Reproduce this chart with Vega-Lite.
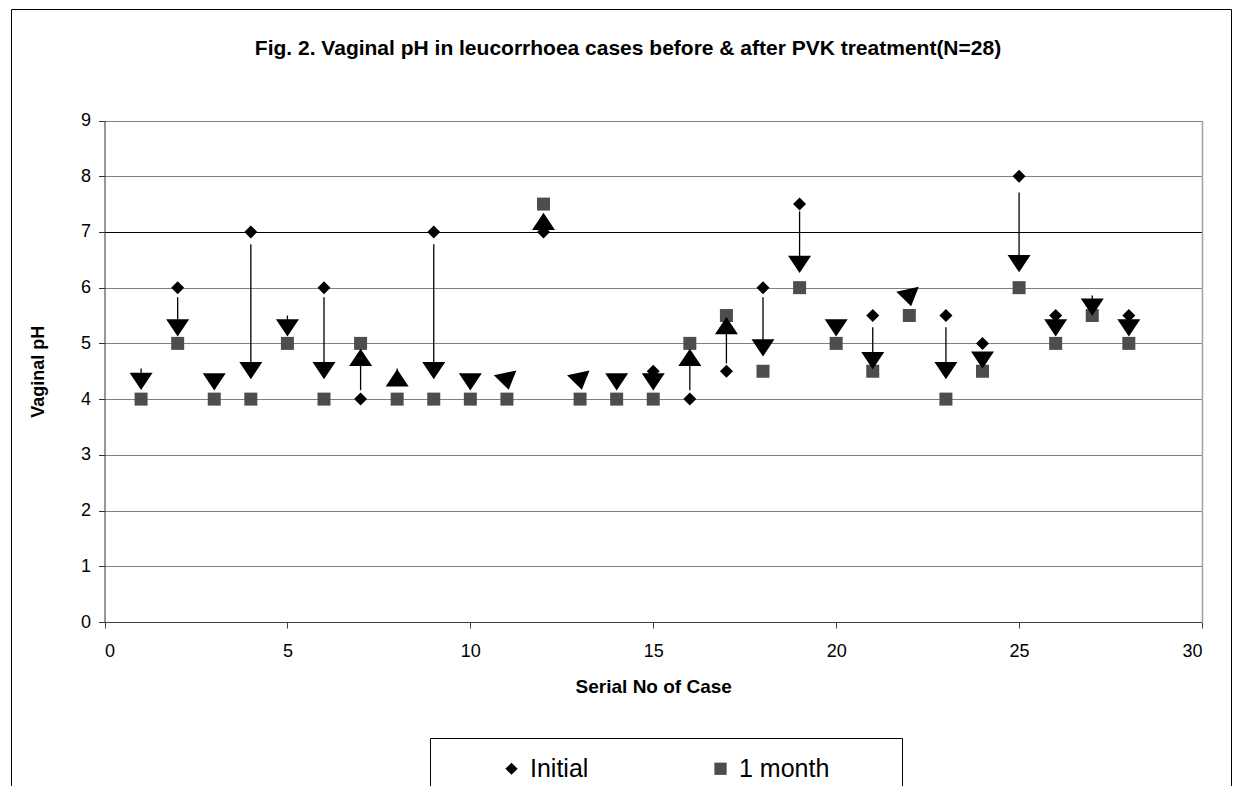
{
  "$schema": "https://vega.github.io/schema/vega-lite/v6.json",
  "autosize": "none",
  "width": 1220,
  "height": 777,
  "padding": {"left": 11, "top": 9, "right": 5, "bottom": 0},
  "background": "white",
  "config": {
    "view": {"stroke": "black", "strokeWidth": 1},
    "font": "Liberation Sans"
  },
  "title": {
    "text": "Fig. 2.  Vaginal pH in leucorrhoea cases before & after PVK treatment(N=28)",
    "font": "Liberation Sans",
    "fontSize": 21,
    "fontWeight": "bold",
    "color": "black",
    "anchor": "middle",
    "baseline": "alphabetic",
    "dx": 7,
    "offset": -67
  },
  "data": {
    "values": [
      {"case": 1, "Initial": null, "1 month": 4, "from": 4.55, "at": 4.32, "dir": "down"},
      {"case": 2, "Initial": 6, "1 month": 5, "from": 5.83, "at": 5.28, "dir": "down"},
      {"case": 3, "Initial": null, "1 month": 4, "from": null, "at": 4.31, "dir": "down"},
      {"case": 4, "Initial": 7, "1 month": 4, "from": 6.78, "at": 4.51, "dir": "down"},
      {"case": 5, "Initial": null, "1 month": 5, "from": 5.5, "at": 5.28, "dir": "down"},
      {"case": 6, "Initial": 6, "1 month": 4, "from": 5.83, "at": 4.51, "dir": "down"},
      {"case": 7, "Initial": 4, "1 month": 5, "from": 4.16, "at": 4.75, "dir": "up"},
      {"case": 8, "Initial": null, "1 month": 4, "from": 4.55, "at": 4.38, "dir": "up"},
      {"case": 9, "Initial": 7, "1 month": 4, "from": 6.78, "at": 4.51, "dir": "down"},
      {"case": 10, "Initial": null, "1 month": 4, "from": null, "at": 4.31, "dir": "down"},
      {"case": 11, "Initial": null, "1 month": 4, "from": null, "at": 4.32, "dir": "down"},
      {"case": 12, "Initial": 7, "1 month": 7.5, "from": null, "at": 7.19, "dir": "up"},
      {"case": 13, "Initial": null, "1 month": 4, "from": null, "at": 4.32, "dir": "down"},
      {"case": 14, "Initial": null, "1 month": 4, "from": null, "at": 4.31, "dir": "down"},
      {"case": 15, "Initial": 4.5, "1 month": 4, "from": null, "at": 4.31, "dir": "down"},
      {"case": 16, "Initial": 4, "1 month": 5, "from": 4.16, "at": 4.75, "dir": "up"},
      {"case": 17, "Initial": 4.5, "1 month": 5.5, "from": 4.64, "at": 5.32, "dir": "up"},
      {"case": 18, "Initial": 6, "1 month": 4.5, "from": 5.83, "at": 4.92, "dir": "down"},
      {"case": 19, "Initial": 7.5, "1 month": 6, "from": 7.37, "at": 6.42, "dir": "down"},
      {"case": 20, "Initial": null, "1 month": 5, "from": null, "at": 5.28, "dir": "down"},
      {"case": 21, "Initial": 5.5, "1 month": 4.5, "from": 5.29, "at": 4.69, "dir": "down"},
      {"case": 22, "Initial": null, "1 month": 5.5, "from": null, "at": 5.82, "dir": "down"},
      {"case": 23, "Initial": 5.5, "1 month": 4, "from": 5.29, "at": 4.51, "dir": "down"},
      {"case": 24, "Initial": 5, "1 month": 4.5, "from": null, "at": 4.7, "dir": "down"},
      {"case": 25, "Initial": 8, "1 month": 6, "from": 7.71, "at": 6.43, "dir": "down"},
      {"case": 26, "Initial": 5.5, "1 month": 5, "from": null, "at": 5.28, "dir": "down"},
      {"case": 27, "Initial": null, "1 month": 5.5, "from": 5.86, "at": 5.65, "dir": "down"},
      {"case": 28, "Initial": 5.5, "1 month": 5, "from": null, "at": 5.28, "dir": "down"}
    ]
  },
  "resolve": {"axis": {"y": "independent"}},
  "layer": [
    {
      "transform": [{"filter": "datum.from != null"}],
      "mark": {"type": "rule", "color": "black", "strokeWidth": 1.3},
      "encoding": {
        "x": {
          "field": "case", "type": "quantitative",
          "scale": {"domain": [0, 30], "range": [93.5, 1191], "nice": false, "zero": false},
          "axis": {
            "orient": "bottom", "offset": -164,
            "values": [0, 5, 10, 15, 20, 25, 30],
            "grid": false,
            "domainColor": "#404040", "domainWidth": 1,
            "tickColor": "#404040", "tickSize": 6, "tickWidth": 1,
            "labelFont": "Liberation Sans", "labelFontSize": 18, "labelColor": "black", "labelPadding": 14,
            "title": "Serial No of Case",
            "titleFont": "Liberation Sans", "titleFontSize": 19, "titleFontWeight": "bold", "titleColor": "black",
            "titlePadding": 17
          }
        },
        "y": {
          "field": "from", "type": "quantitative",
          "scale": {"domain": [0, 9], "range": [613, 111.5], "nice": false, "zero": false},
          "axis": {
            "orient": "left", "offset": -93.5,
            "values": [0, 1, 2, 3, 4, 5, 6, 7, 8, 9],
            "grid": true,
            "gridColor": {"condition": {"test": "datum.value === 7", "value": "#000000"}, "value": "#808080"},
            "gridWidth": 1,
            "domainColor": "#333333", "domainWidth": 1,
            "tickColor": "#333333", "tickSize": 6, "tickWidth": 1,
            "labelFont": "Liberation Sans", "labelFontSize": 18, "labelColor": "black", "labelPadding": 8,
            "title": "Vaginal pH",
            "titleFont": "Liberation Sans", "titleFontSize": 18, "titleFontWeight": "bold", "titleColor": "black",
            "titlePadding": 33
          }
        },
        "y2": {"field": "at"}
      }
    },
    {
      "transform": [{"fold": ["Initial", "1 month"], "as": ["series", "pH"]}],
      "mark": {"type": "point", "filled": true, "opacity": 1, "size": 169},
      "encoding": {
        "x": {"field": "case", "type": "quantitative", "scale": {"domain": [0, 30], "range": [93.5, 1191], "nice": false, "zero": false}},
        "y": {"field": "pH", "type": "quantitative", "scale": {"domain": [0, 9], "range": [613, 111.5], "nice": false, "zero": false}, "axis": null},
        "shape": {
          "field": "series", "type": "nominal",
          "scale": {"domain": ["Initial", "1 month"], "range": ["diamond", "square"]},
          "legend": {
            "title": null,
            "orient": "none",
            "legendX": 419,
            "legendY": 729,
            "direction": "horizontal",
            "strokeColor": "black",
            "fillColor": "white",
            "padding": 18,
            "symbolSize": 150,
            "symbolOffset": 51,
            "symbolStrokeWidth": 0,
            "labelFont": "Liberation Sans",
            "labelFontSize": 25,
            "labelColor": "black",
            "labelOffset": 6,
            "columnPadding": 68,
            "labelExpr": "datum.label == '1 month' ? '1 month\u2800\u2800\u2800' : datum.label"
          }
        },
        "color": {
          "field": "series", "type": "nominal",
          "scale": {"domain": ["Initial", "1 month"], "range": ["#000000", "#4d4d4d"]}
        }
      }
    },
    {
      "transform": [{"filter": "datum.dir === 'down' && indexof([11, 13, 22], datum.case) < 0"}],
      "mark": {"type": "point", "filled": true, "opacity": 1, "color": "black", "size": 529, "shape": "M-1,-0.75L1,-0.75L0,0.75Z"},
      "encoding": {
        "x": {"field": "case", "type": "quantitative", "scale": {"domain": [0, 30], "range": [93.5, 1191], "nice": false, "zero": false}},
        "y": {"field": "at", "type": "quantitative", "scale": {"domain": [0, 9], "range": [613, 111.5], "nice": false, "zero": false}, "axis": null}
      }
    },
    {
      "transform": [{"filter": "indexof([11, 13, 22], datum.case) >= 0"}],
      "mark": {"type": "point", "filled": true, "opacity": 1, "color": "black", "size": 529, "angle": -12, "shape": "M-1,-0.75L1,-0.75L0,0.75Z"},
      "encoding": {
        "x": {"field": "case", "type": "quantitative", "scale": {"domain": [0, 30], "range": [93.5, 1191], "nice": false, "zero": false}},
        "y": {"field": "at", "type": "quantitative", "scale": {"domain": [0, 9], "range": [613, 111.5], "nice": false, "zero": false}, "axis": null}
      }
    },
    {
      "transform": [{"filter": "datum.dir === 'up'"}],
      "mark": {"type": "point", "filled": true, "opacity": 1, "color": "black", "size": 529, "shape": "M-1,0.75L1,0.75L0,-0.75Z"},
      "encoding": {
        "x": {"field": "case", "type": "quantitative", "scale": {"domain": [0, 30], "range": [93.5, 1191], "nice": false, "zero": false}},
        "y": {
          "field": "at", "type": "quantitative",
          "scale": {"domain": [0, 9], "range": [613, 111.5], "nice": false, "zero": false},
          "axis": {
            "orient": "right", "offset": -29,
            "domain": true, "domainColor": "#a0a0a0", "domainWidth": 1.5,
            "ticks": false, "labels": false, "grid": false, "title": null
          }
        }
      }
    }
  ]
}
